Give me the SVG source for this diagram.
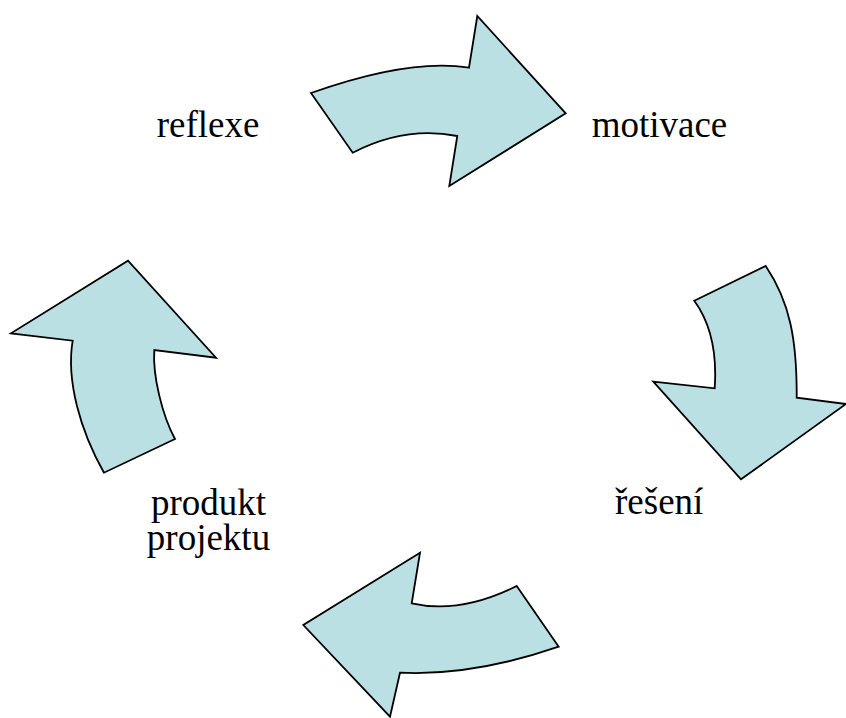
<svg xmlns="http://www.w3.org/2000/svg" width="846" height="718" viewBox="0 0 846 718">
<style>
.arr{fill:#BBE0E3;stroke:#000;stroke-width:1.8;stroke-linejoin:miter}
</style>
<rect width="846" height="718" fill="#fff"/>
<g id="connectors">
<path id="arrow-top" class="arr" d="M311,93 Q410,58 469,67.7 L477.3,16 L565.7,113.3 L449.3,186 L457.3,136 Q405,125.6 352.7,152.7 Z"/>
<path id="arrow-right" class="arr" d="M694.3,300.7 L765.7,266 C790,302 797,340 796.7,397.7 L846,404 L741,479.3 L653.3,381.7 L714.7,388.3 C717,355 712,325 694.3,300.7 Z"/>
<path id="arrow-bottom" class="arr" d="M516.7,586 L558.7,646.7 Q472.6,676.3 400,672.7 L390,716.7 L303.3,625 L420,552.7 L411.7,603.3 Q459.8,614.3 516.7,586 Z"/>
<path id="arrow-left" class="arr" d="M175,439 L104,472.7 C80,430 66,380 72.7,340.7 L11,333.3 L128,260.7 L216,357.7 L154.3,350 C152.5,375 162,415 175,439 Z"/>
</g>
<g id="reflexe"><text font-size="37" font-family="Liberation Serif" x="156.7" y="137">reflexe</text></g>
<g id="motivace"><text font-size="37" font-family="Liberation Serif" x="591.7" y="137">motivace</text></g>
<g id="reseni"><text font-size="37" font-family="Liberation Serif" x="615" y="514.3">řešení</text></g>
<g id="produkt"><text font-size="37" font-family="Liberation Serif" x="208.5" y="515" text-anchor="middle">produkt</text><text font-size="37" font-family="Liberation Serif" x="208.5" y="550" text-anchor="middle">projektu</text></g>
</svg>
